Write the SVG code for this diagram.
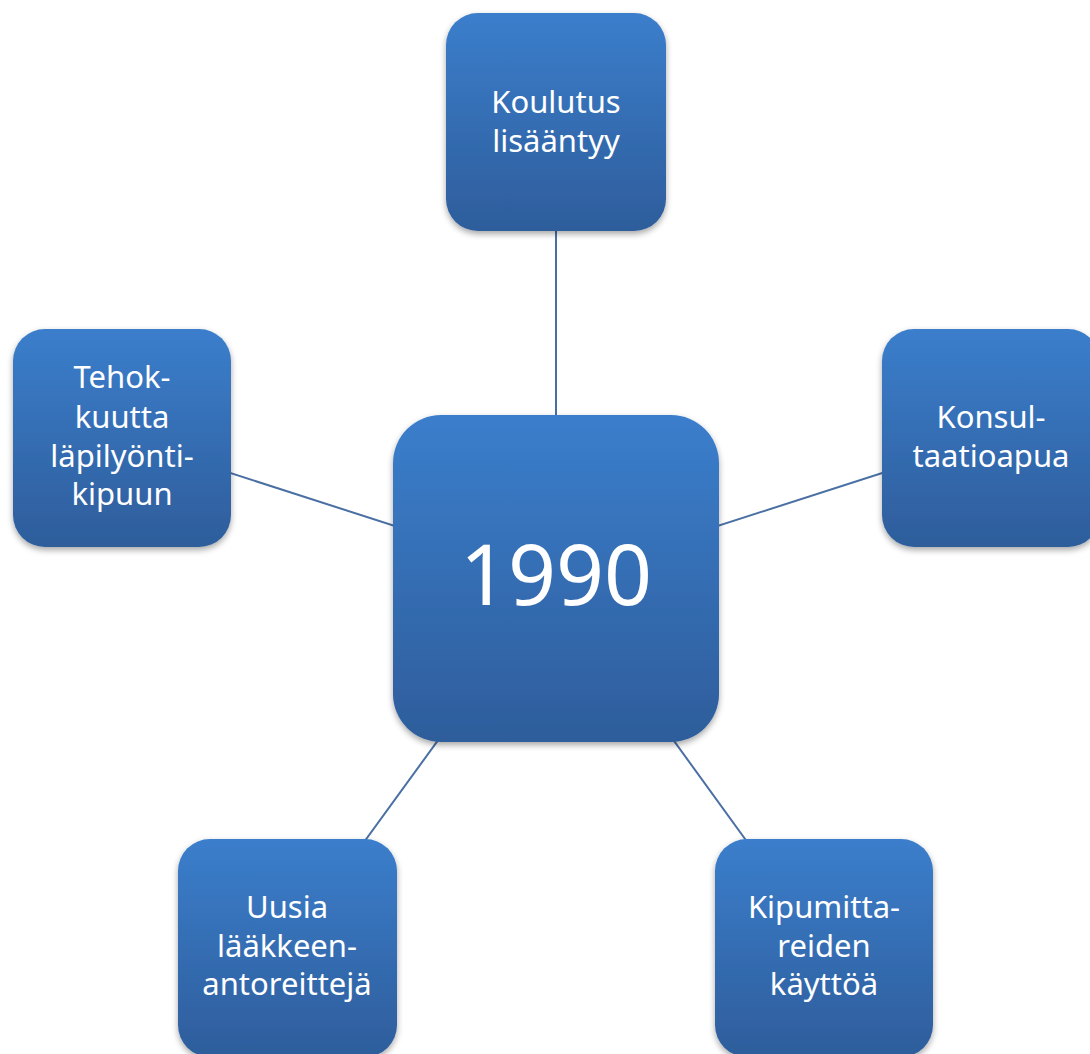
<svg xmlns="http://www.w3.org/2000/svg" width="1090" height="1054" viewBox="0 0 1090 1054">
<style>
.box{fill:url(#g);filter:url(#sh)}
.t{font-family:"Noto Sans","Open Sans",sans-serif;fill:#ffffff;text-anchor:middle;font-size:31px}
.big{font-size:84px}
.c line{stroke:#4a6fa3;stroke-width:2}
</style>
<defs>
<linearGradient id="g" x1="0" y1="0" x2="0" y2="1">
<stop offset="0" stop-color="#3b7ecc"/>
<stop offset="1" stop-color="#2e5d9b"/>
</linearGradient>
<filter id="sh" x="-10%" y="-10%" width="120%" height="125%">
<feDropShadow dx="0" dy="3" stdDeviation="3" flood-color="#000" flood-opacity="0.35"/>
</filter>
</defs>
<rect width="1090" height="1054" fill="#ffffff"/>
<g class="c" id="connectors">
<line x1="556" y1="578" x2="556" y2="122"/>
<line x1="556" y1="578" x2="122" y2="438"/>
<line x1="556" y1="578" x2="991" y2="438"/>
<line x1="556" y1="578" x2="287" y2="948"/>
<line x1="556" y1="578" x2="824" y2="948"/>
</g>
<g id="n-center">
<rect class="box" x="393" y="415" width="326" height="327" rx="48"/>
<text class="t big" x="556" y="605">1990</text>
</g>
<g id="n-top">
<rect class="box" x="446" y="13" width="220" height="218" rx="32"/>
<text class="t" x="556" y="113">Koulutus</text>
<text class="t" x="556" y="152">lisääntyy</text>
</g>
<g id="n-left">
<rect class="box" x="13" y="329" width="218" height="218" rx="32"/>
<text class="t" x="122" y="388">Tehok-</text>
<text class="t" x="122" y="428">kuutta</text>
<text class="t" x="122" y="467">läpilyönti-</text>
<text class="t" x="122" y="505">kipuun</text>
</g>
<g id="n-right">
<rect class="box" x="882" y="329" width="218" height="218" rx="32"/>
<text class="t" x="991" y="428">Konsul-</text>
<text class="t" x="991" y="467">taatioapua</text>
</g>
<g id="n-bl">
<rect class="box" x="178" y="839" width="219" height="218" rx="32"/>
<text class="t" x="287" y="918">Uusia</text>
<text class="t" x="287" y="957">lääkkeen-</text>
<text class="t" x="287" y="995">antoreittejä</text>
</g>
<g id="n-br">
<rect class="box" x="715" y="839" width="218" height="218" rx="32"/>
<text class="t" x="824" y="918">Kipumitta-</text>
<text class="t" x="824" y="957">reiden</text>
<text class="t" x="824" y="995">käyttöä</text>
</g>
</svg>
